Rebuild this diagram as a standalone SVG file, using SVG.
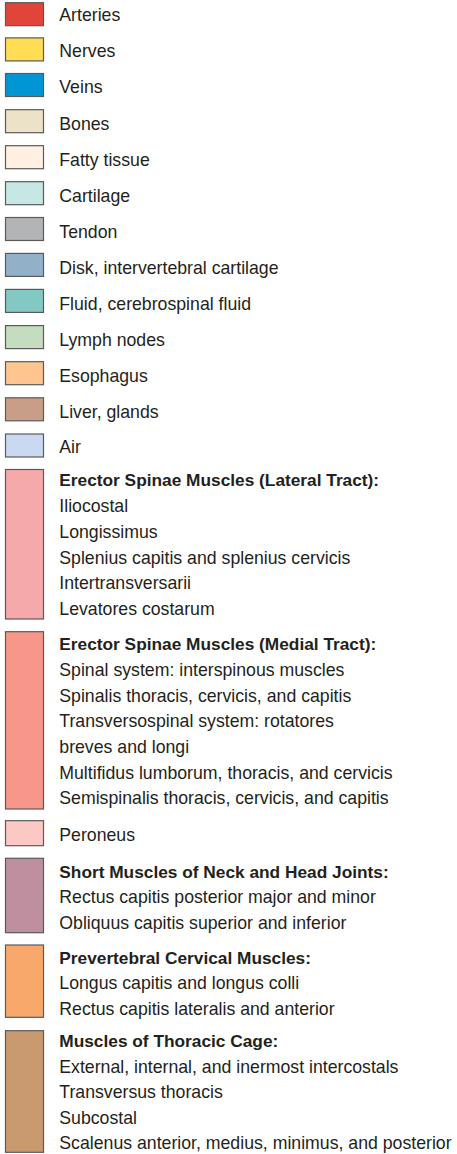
<svg xmlns="http://www.w3.org/2000/svg" width="457" height="1154" viewBox="0 0 457 1154">
<style>
.sw{stroke:#5a5a5a;stroke-width:1.2}
text{font-family:"Liberation Sans",Arial,sans-serif;font-size:17.7px;fill:#231f20}
.h{font-weight:bold;font-size:17.3px}
</style>
<rect width="457" height="1154" fill="#ffffff"/>
<g id="arteries"><rect class="sw" x="5.5" y="2.7" width="38" height="23" fill="#e1453a"/><text x="59.3" y="20.7">Arteries</text></g>
<g id="nerves"><rect class="sw" x="5.5" y="37.9" width="38" height="23" fill="#ffdd55"/><text x="59.3" y="57">Nerves</text></g>
<g id="veins"><rect class="sw" x="5.5" y="73.5" width="38" height="23" fill="#0095d5"/><text x="59.3" y="93">Veins</text></g>
<g id="bones"><rect class="sw" x="5.5" y="109.7" width="38" height="23" fill="#ebe2c8"/><text x="59.3" y="129.5">Bones</text></g>
<g id="fatty"><rect class="sw" x="5.5" y="145.7" width="38" height="23" fill="#fff0e2"/><text x="59.3" y="165.5">Fatty tissue</text></g>
<g id="cartilage"><rect class="sw" x="5.5" y="181.7" width="38" height="23" fill="#c6e7e4"/><text x="59.3" y="201.8">Cartilage</text></g>
<g id="tendon"><rect class="sw" x="5.5" y="217.5" width="38" height="23" fill="#b3b4b6"/><text x="59.3" y="238">Tendon</text></g>
<g id="disk"><rect class="sw" x="5.5" y="253.4" width="38" height="23" fill="#92b1c9"/><text x="59.3" y="274">Disk, intervertebral cartilage</text></g>
<g id="fluid"><rect class="sw" x="5.5" y="289.4" width="38" height="23" fill="#83c8c2"/><text x="59.3" y="310">Fluid, cerebrospinal fluid</text></g>
<g id="lymph"><rect class="sw" x="5.5" y="325.6" width="38" height="23" fill="#c6dcbe"/><text x="59.3" y="346">Lymph nodes</text></g>
<g id="esophagus"><rect class="sw" x="5.5" y="361.7" width="38" height="23" fill="#fec591"/><text x="59.3" y="382">Esophagus</text></g>
<g id="liver"><rect class="sw" x="5.5" y="397.8" width="38" height="23" fill="#c99e89"/><text x="59.3" y="418.2">Liver, glands</text></g>
<g id="air"><rect class="sw" x="5.5" y="434" width="38" height="23" fill="#c8d9f1"/><text x="59.3" y="453.4">Air</text></g>
<g id="lateral"><rect class="sw" x="5.5" y="469.5" width="38" height="149.5" fill="#f5a9ab"/>
<text class="h" x="59.3" y="486">Erector Spinae Muscles (Lateral Tract):</text>
<text x="59.3" y="512.3">Iliocostal</text>
<text x="59.3" y="538">Longissimus</text>
<text x="59.3" y="563.7">Splenius capitis and splenius cervicis</text>
<text x="59.3" y="589.3">Intertransversarii</text>
<text x="59.3" y="615">Levatores costarum</text></g>
<g id="medial"><rect class="sw" x="5.5" y="631.7" width="38" height="177.3" fill="#f7978a"/>
<text class="h" x="59.3" y="650">Erector Spinae Muscles (Medial Tract):</text>
<text x="59.3" y="676">Spinal system: interspinous muscles</text>
<text x="59.3" y="701.7">Spinalis thoracis, cervicis, and capitis</text>
<text x="59.3" y="727.3">Transversospinal system: rotatores</text>
<text x="59.3" y="752.9">breves and longi</text>
<text x="59.3" y="778.5">Multifidus lumborum, thoracis, and cervicis</text>
<text x="59.3" y="804">Semispinalis thoracis, cervicis, and capitis</text></g>
<g id="peroneus"><rect class="sw" x="5.5" y="820.7" width="38" height="25" fill="#fcc8c3"/><text x="59.3" y="840.7">Peroneus</text></g>
<g id="short"><rect class="sw" x="5.5" y="858.3" width="38" height="74.4" fill="#bd8f9f"/>
<text class="h" x="59.3" y="877.7">Short Muscles of Neck and Head Joints:</text>
<text x="59.3" y="903.3">Rectus capitis posterior major and minor</text>
<text x="59.3" y="929">Obliquus capitis superior and inferior</text></g>
<g id="prevertebral"><rect class="sw" x="5.5" y="945" width="38" height="72.3" fill="#f9a86c"/>
<text class="h" x="59.3" y="964">Prevertebral Cervical Muscles:</text>
<text x="59.3" y="989">Longus capitis and longus colli</text>
<text x="59.3" y="1014.5">Rectus capitis lateralis and anterior</text></g>
<g id="thoracic"><rect class="sw" x="5.5" y="1030.7" width="38" height="121.6" fill="#c99a70"/>
<text class="h" x="59.3" y="1047.3">Muscles of Thoracic Cage:</text>
<text x="59.3" y="1072.7">External, internal, and inermost intercostals</text>
<text x="59.3" y="1098.3">Transversus thoracis</text>
<text x="59.3" y="1123.7">Subcostal</text>
<text x="59.3" y="1149">Scalenus anterior, medius, minimus, and posterior</text></g>
<g id="connectors"/>
</svg>
